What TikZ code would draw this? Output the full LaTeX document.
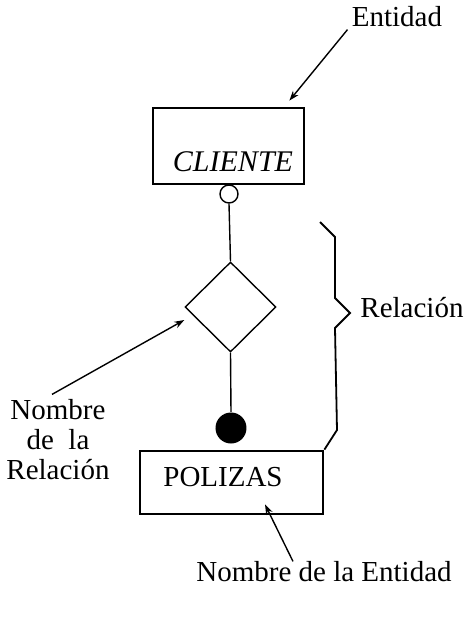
\documentclass[tikz,border=0pt]{standalone}
\usepackage{fontspec}
\setmainfont{Liberation Serif}
\usetikzlibrary{shapes.geometric,arrows.meta,calc}

\begin{document}
\begin{tikzpicture}[x=0.5pt, y=-0.5pt,
        every node/.style={font=\fontsize{14.5}{15}\selectfont},
        entbox/.style={draw, rectangle, line width=1.4pt, inner sep=0pt},
        note/.style={inner sep=0pt},
        conn/.style={line width=0.7pt},
        pointer/.style={line width=0.7pt, -{Stealth[length=5pt,width=3.5pt]}}]
        \useasboundingbox (0,0) rectangle (469,634);
        \node[entbox, minimum width=75.5pt, minimum height=38pt] (cliente) at (228.5,146) {};
        \node[note, font=\fontsize{15}{15}\selectfont\itshape] (clientetxt) at (233,162) {CLIENTE};
        \node[draw, circle, conn, minimum size=9pt, inner sep=0pt] (opt) at (229,194) {};
        \node[draw, diamond, conn, aspect=1, minimum width=45.5pt, minimum height=45pt, inner sep=0pt] (rel) at (230.5,307) {};
        \node[circle, fill=black, minimum size=15.5pt, inner sep=0pt] (mand) at (231,428) {};
        \node[entbox, minimum width=91.5pt, minimum height=31.5pt] (polizas) at (231.5,482.5) {};
        \node[note] (polizastxt) at (223,477) {POLIZAS};
        \draw[conn] (opt.south) -- (rel.north);
        \draw[conn] (rel.south) -- (mand.north);
        \coordinate (bracetop) at (320,222);
        \coordinate (bracetip) at (350,313);
        \draw[line width=0.9pt] (bracetop) -- (335,237) -- (335,298) -- (bracetip) -- (335,328) -- (337,430) -- (polizas.north east);
        \node[note] (lblent) at (397,17) {Entidad};
        \node[note] (lblrel) at (412,308) {Relación};
        \node[note, align=center] (lblnomrel) at (58,440) {Nombre\\de~~la\\Relación};
        \node[note] (lblnoment) at (324,572) {Nombre de la Entidad};
        \draw[pointer] ($(lblent.south west)+(-4,2)$) -- ($(cliente.north east)+(-16,-6)$);
        \draw[pointer] ($(lblnomrel.north)+(-6,-5)$) -- ($(rel.west)+(0,13)$);
        \draw[pointer] ($(lblnoment.north)+(-31,0)$) -- ($(polizas.south)+(33.5,-11)$);
    \end{tikzpicture}
\end{document}
